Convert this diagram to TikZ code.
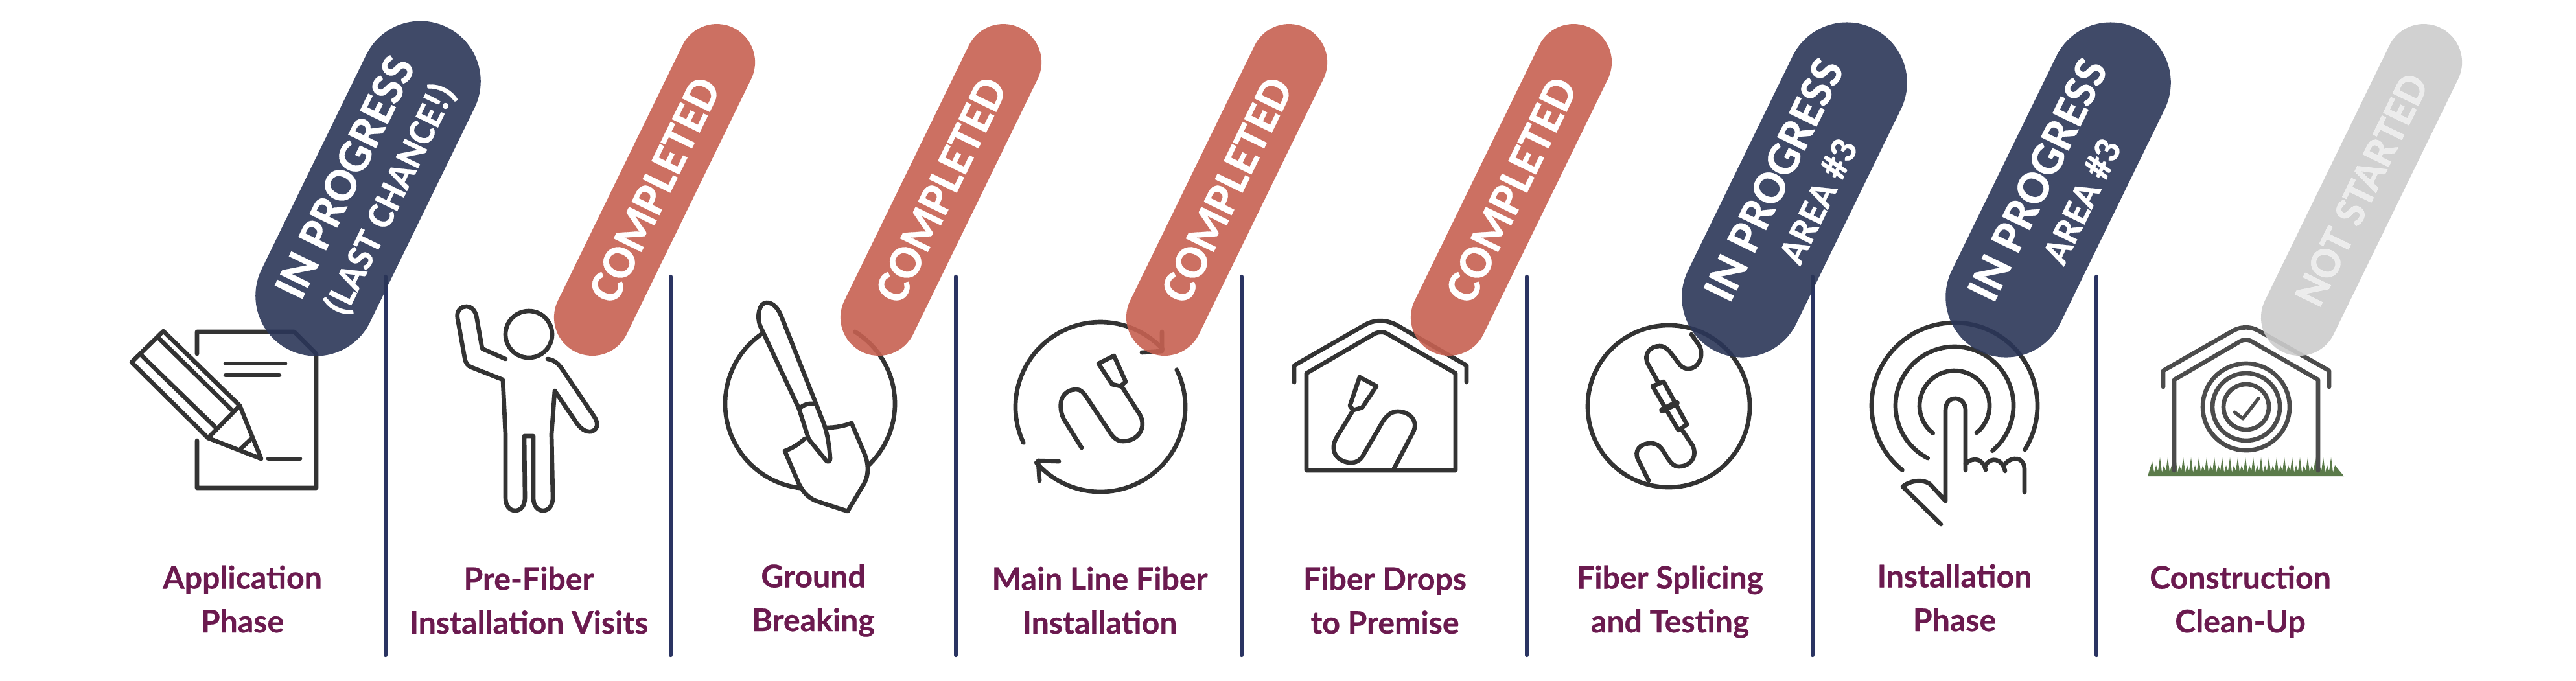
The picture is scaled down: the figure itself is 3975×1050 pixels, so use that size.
\documentclass[tikz,border=0pt]{standalone}
\usepackage{fontspec}
\usepackage{xcolor}
\usepackage{tikz}
\usetikzlibrary{shapes.misc}
\setmainfont{Lato}[BoldFeatures={FakeBold=0.5}]
\newfontfamily\pillfont{Carlito}[BoldFeatures={FakeBold=0.45}]
\definecolor{navyPill}{RGB}{43,54,88}
\definecolor{salmonPill}{RGB}{198,97,81}
\definecolor{greyPill}{RGB}{204,204,204}
\definecolor{rule}{RGB}{42,52,98}
\definecolor{plum}{RGB}{107,26,79}
\definecolor{iconInk}{RGB}{51,51,51}
\definecolor{grass}{RGB}{91,123,74}
\newcommand{\subline}[1]{{\fontsize{16.8}{16}\selectfont #1}}
\tikzset{
  pill/.style={rounded rectangle, fill opacity=.9, text opacity=1, text=white,
    rotate=64, inner sep=0pt, align=center, font=\pillfont\bfseries\fontsize{20.8}{20.5}\selectfont},
  inProgress/.style={pill, fill=navyPill, minimum width=5.54cm, minimum height=1.86cm},
  completed/.style={pill, fill=salmonPill, minimum width=5.56cm, minimum height=1.18cm},
  notStarted/.style={pill, fill=greyPill, text=white, text opacity=.6, minimum width=5.56cm, minimum height=1.18cm,
    font=\pillfont\bfseries\fontsize{19.4}{20}\selectfont},
  phase/.style={anchor=base, align=center, inner sep=0pt, text=plum,
    font=\bfseries\fontsize{13.7}{19.2}\selectfont},
  divider/.style={draw=rule, line width=1.8pt, line cap=round},
  iconLine/.style={draw=iconInk, line width=1.9pt, line join=round, line cap=round},
  cleanLine/.style={iconLine, draw=black!70}
}
\newcommand{\IconPaper}{%
  \draw[iconLine] (304,680) -- (304,753) -- (488,753) -- (488,546) -- (454,512) -- (304,512) -- (304,546);
  \draw[iconLine] (348,561) -- (440,561);
  \draw[iconLine] (348,579) -- (431,579);
  \draw[iconLine] (414,708) -- (463,708);
  % pencil
  \draw[iconLine] (252,511) -- (203,559) -- (321,676) -- (403,708) -- (370,626) -- cycle;
  \draw[iconLine] (321,676) -- (370,626);
  \draw[iconLine] (244,521) -- (360,635);
  \draw[iconLine] (219,549) -- (333,660);
  \draw[iconLine] (371,693) -- (387,678);
}
\newcommand{\IconPerson}{%
  \draw[iconLine] (816,516) circle (36);
  \draw[iconLine] (780,554) -- (744,538) -- (735,487) .. controls (732,478) and (727,473) .. (720,473)
    .. controls (711,473) and (704,480) .. (706,491) -- (717,552) .. controls (718,560) and (722,565) .. (728,567)
    -- (776,586) -- (780,670) -- (780,768) .. controls (780,780) and (786,788) .. (795,788)
    .. controls (804,788) and (810,780) .. (810,768) -- (809,673) -- (823,673) -- (823,768)
    .. controls (823,780) and (829,788) .. (838,788) .. controls (847,788) and (853,780) .. (853,768)
    -- (851,670) -- (856,603) -- (890,653) .. controls (897,663) and (905,667) .. (912,666)
    .. controls (921,664) and (925,655) .. (917,643) -- (867,569) .. controls (860,559) and (853,555) .. (845,554);
}
\newcommand{\IconShovel}{%
  \draw[iconLine] (1250,623) ++(-58:131) arc (-58:47:131);
  \draw[iconLine] (1250,623) ++(96:131) arc (96:236:131);
  % handle and blade
  \draw[iconLine] (1233,631) -- (1173,503) .. controls (1167,487) and (1172,467) .. (1183,467)
    .. controls (1193,467) and (1201,476) .. (1206,489) -- (1271,653) .. controls (1277,670) and (1280,690) .. (1281,708)
    .. controls (1281,713) and (1277,713) .. (1275,711) -- (1248,678) -- cycle;
  \draw[iconLine] (1233,631) .. controls (1240,624) and (1250,621) .. (1260,624);
  \draw[iconLine] (1242,677) .. controls (1232,686) and (1222,692) .. (1211,696) -- (1232,745)
    .. controls (1240,762) and (1250,770) .. (1262,774) -- (1308,789) -- (1330,752)
    .. controls (1340,738) and (1342,720) .. (1334,700) -- (1314,653) .. controls (1300,658) and (1288,660) .. (1275,660);
}
\newcommand{\IconLoop}{%
  \draw[iconLine] (1698,628) ++(155:131) arc (155:317:131);
  \draw[iconLine] (1698,628) ++(-26:131) arc (-26:139:131);
  \draw[iconLine] (1793,512) -- (1793,542) -- (1762,544);
  \draw[iconLine] (1634,712) -- (1602,711) -- (1604,742);
  % cable
  \draw[iconLine] (1695,561) -- (1719,549) -- (1737,589) -- (1729,596) -- (1716,593) -- cycle;
  \draw[iconLine] (1732,598) -- (1759,640) .. controls (1770,660) and (1756,681) .. (1733,681)
    .. controls (1722,681) and (1716,673) .. (1710,663) -- (1678,615) .. controls (1672,606) and (1668,601) .. (1661,601)
    .. controls (1641,601) and (1630,620) .. (1641,646) -- (1669,691);
}
\newcommand{\IconHouse}{%
  \draw[iconLine] (1997,590) -- (1997,564) -- (2105,502) .. controls (2120,493) and (2138,493) .. (2154,501) -- (2263,564) -- (2263,590);
  \draw[iconLine] (2016,726) -- (2016,576) -- (2116,518) .. controls (2126,511) and (2136,511) .. (2144,517) -- (2246,576) -- (2246,726) -- cycle;
  \draw[iconLine] (2098,582) -- (2124,596) -- (2102,629) -- (2088,633) -- (2083,626) -- cycle;
  \draw[iconLine] (2088,633) -- (2062,676) .. controls (2050,698) and (2066,714) .. (2085,714)
    .. controls (2095,714) and (2101,708) .. (2105,700) -- (2134,650) .. controls (2142,638) and (2150,635) .. (2157,635)
    .. controls (2175,635) and (2190,650) .. (2180,668) -- (2151,723);
}
\newcommand{\IconSplice}{%
  \draw[iconLine] (2575,627) circle (125);
  \draw[iconLine] (2610,516) -- (2622,533) .. controls (2630,548) and (2622,569) .. (2605,569)
    .. controls (2597,569) and (2592,564) .. (2587,556) -- (2576,542) .. controls (2570,536) and (2566,534) .. (2561,534)
    .. controls (2547,534) and (2535,546) .. (2543,562) -- (2558,589);
  \draw[iconLine] (2550,596) -- (2567,589) -- (2603,655) -- (2590,664) -- cycle;
  \draw[iconLine, line width=2.8pt] (2565,633) -- (2587,622);
  \draw[iconLine] (2596,664) -- (2612,688) .. controls (2620,705) and (2608,720) .. (2590,720)
    .. controls (2580,720) and (2574,708) .. (2567,697) .. controls (2562,688) and (2555,684) .. (2547,684)
    .. controls (2532,684) and (2520,695) .. (2528,710) -- (2544,742);
}
\newcommand{\IconTouch}{%
  \draw[iconLine] (3016,626) ++(129:128) arc (129:392:128);
  \draw[iconLine] (3016,626) ++(117:91) arc (117:410:91);
  \draw[iconLine] (3016,626) ++(128:54) arc (128:411:54);
  \draw[iconLine] (2995,809) -- (2936,751) .. controls (2945,743) and (2965,738) .. (2978,747) -- (3002,773) -- (3002,633)
    .. controls (3002,622) and (3008,615) .. (3017,615) .. controls (3026,615) and (3033,622) .. (3033,633) -- (3033,726);
  \draw[iconLine] (3033,716) .. controls (3045,704) and (3060,708) .. (3064,725);
  \draw[iconLine] (3064,718) .. controls (3072,704) and (3090,708) .. (3094,727);
  \draw[iconLine] (3094,716) .. controls (3104,704) and (3124,704) .. (3124,725) -- (3124,760);
}
\newcommand{\IconCleanUp}{%
  \fill[grass] (3314,735) -- (3321,712)
    \foreach \i in {1,...,47}{ -- ({3321+6*\i-3},{727+mod(\i,2)*2}) -- ({3321+6*\i},{706+mod(\i*\i*7,4)*4}) }
    -- (3617,735) -- cycle;
  \draw[cleanLine] (3338,597) -- (3338,572) -- (3443,512) .. controls (3457,503) and (3474,503) .. (3488,512) -- (3594,572) -- (3594,597);
  \draw[cleanLine] (3355,726) -- (3355,586) -- (3453,529) .. controls (3461,523) and (3470,523) .. (3478,529) -- (3577,586) -- (3577,726);
  \foreach \r in {67,52,35}{ \draw[cleanLine] (3466,628) circle (\r); }
  \draw[cleanLine, line width=1.5pt] (3448,636) -- (3461,646) -- (3485,615);
}
\begin{document}
\begin{tikzpicture}[x=0.01cm, y=0.01cm, yscale=-1]
  \useasboundingbox (0,0) rectangle (3975,1050);
  % dividers first, the pills lie over them
  \foreach \x in {595,1035,1475,1916,2356,2797,3235}{
    \draw[divider] (\x,427) -- (\x,1011);
  }
  \IconPaper
  \IconPerson
  \IconShovel
  \IconLoop
  \IconHouse
  \IconSplice
  \IconTouch
  \IconCleanUp
  % status pills
  \node[inProgress] (pillApplication) at (568,291) {IN PROGRESS\\\subline{(LAST CHANCE!)}};
  \node[completed] (pillVisits) at (1010,293) {COMPLETED};
  \node[completed] (pillGround) at (1452,293) {COMPLETED};
  \node[completed] (pillMain) at (1893,293) {COMPLETED};
  \node[completed] (pillDrops) at (2332,293) {COMPLETED};
  \node[inProgress] (pillSplice) at (2769,293) {IN PROGRESS\\\subline{AREA \#3}};
  \node[inProgress] (pillInstall) at (3176,293) {IN PROGRESS\\\subline{AREA \#3}};
  \node[notStarted] (pillCleanUp) at (3644,293) {NOT STARTED};
  % phase names
  \node[phase] (nameApplication) at (374,976) {Application\\Phase};
  \node[phase] (nameVisits) at (816,978) {Pre-Fiber\\Installation Visits};
  \node[phase] (nameGround) at (1255,974) {Ground\\Breaking};
  \node[phase] (nameMain) at (1697,978) {Main Line Fiber\\Installation};
  \node[phase] (nameDrops) at (2137,978) {Fiber Drops\\to Premise};
  \node[phase] (nameSplice) at (2577,976) {Fiber Splicing\\and Testing};
  \node[phase] (nameInstall) at (3016,974) {Installation\\Phase};
  \node[phase] (nameCleanUp) at (3457,976) {Construction\\Clean-Up};
\end{tikzpicture}
\end{document}
